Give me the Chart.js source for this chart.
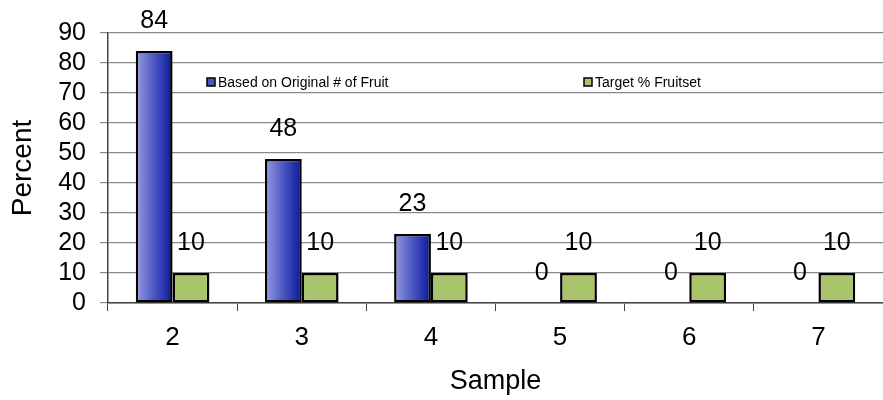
<!DOCTYPE html>
<html>
<head>
<meta charset="utf-8">
<script src="https://cdn.jsdelivr.net/npm/chart.js@4"></script>
<style>
  body { margin: 0; background: #fff; }
  #wrap { width: 883px; height: 400px; }
</style>
</head>
<body>
<div id="wrap"><canvas id="myChart"></canvas></div>
<script>
var samples = ['2', '3', '4', '5', '6', '7'];
var originalFruit = [84, 48, 23, 0, 0, 0];
var targetFruitset = [10, 10, 10, 10, 10, 10];
var yTicks = [0, 10, 20, 30, 40, 50, 60, 70, 80, 90];

var FONT = "Arial, 'Liberation Sans', sans-serif";
var CAT_PCT = 0.57;

// horizontal gradient for the blue bars, worked out from the x scale
function blueGradient(context) {
  var chart = context.chart;
  var xs = chart.scales.x;
  if (!chart.chartArea || !xs || context.dataIndex === undefined) return '#4a55c2';
  var center = xs.getPixelForValue(context.dataIndex);
  var w = (xs.width / samples.length) * CAT_PCT / 2;
  var g = chart.ctx.createLinearGradient(center - w, 0, center, 0);
  g.addColorStop(0, '#979ce0');
  g.addColorStop(0.5, '#4c56c3');
  g.addColorStop(1, '#08189a');
  return g;
}

// value labels above bars
var valueLabels = {
  id: 'valueLabels',
  afterDatasetsDraw: function (chart) {
    var ctx = chart.ctx;
    ctx.save();
    ctx.font = '25px ' + FONT;
    ctx.fillStyle = '#000';
    ctx.textAlign = 'center';
    ctx.textBaseline = 'middle';
    chart.data.datasets.forEach(function (ds, i) {
      chart.getDatasetMeta(i).data.forEach(function (el, j) {
        ctx.fillText(String(ds.data[j]), el.x, el.y - 30);
      });
    });
    ctx.restore();
  }
};

// legend drawn inside the plot area
var insideLegend = {
  id: 'insideLegend',
  afterDraw: function (chart) {
    var ctx = chart.ctx;
    var items = [
      { x: 207, fill: '#4a55c2', text: chart.data.datasets[0].label },
      { x: 584, fill: '#a9c46c', text: chart.data.datasets[1].label }
    ];
    ctx.save();
    ctx.font = '14px ' + FONT;
    ctx.textBaseline = 'middle';
    items.forEach(function (it) {
      ctx.fillStyle = it.fill;
      ctx.fillRect(it.x, 78, 8, 8);
      ctx.strokeStyle = '#000';
      ctx.lineWidth = 1.5;
      ctx.strokeRect(it.x, 78, 8, 8);
      ctx.fillStyle = '#000';
      ctx.fillText(it.text, it.x + 11, 83);
    });
    ctx.restore();
  }
};

var ctx = document.getElementById('myChart').getContext('2d');
new Chart(ctx, {
  type: 'bar',
  data: {
    labels: samples,
    datasets: [
      {
        label: 'Based on Original # of Fruit',
        data: originalFruit,
        backgroundColor: blueGradient,
        borderColor: '#000',
        borderWidth: 2.5,
        borderSkipped: false,
        categoryPercentage: CAT_PCT,
        barPercentage: 1.0
      },
      {
        label: 'Target % Fruitset',
        data: targetFruitset,
        backgroundColor: '#a9c46c',
        borderColor: '#000',
        borderWidth: 2.5,
        borderSkipped: false,
        categoryPercentage: CAT_PCT,
        barPercentage: 1.0
      }
    ]
  },
  plugins: [valueLabels, insideLegend],
  options: {
    responsive: true,
    maintainAspectRatio: false,
    animation: false,
    layout: { padding: { top: 33, right: 0, left: 0, bottom: 0 } },
    plugins: {
      legend: { display: false },
      tooltip: { enabled: false }
    },
    scales: {
      x: {
        grid: {
          offset: true,
          drawOnChartArea: false,
          drawTicks: true,
          tickLength: 8,
          color: '#444'
        },
        border: { display: true, color: '#444', width: 1.5 },
        ticks: {
          color: '#000',
          font: { size: 26, family: FONT },
          padding: 11
        },
        title: {
          display: true,
          text: 'Sample',
          color: '#000',
          font: { size: 27, family: FONT },
          padding: { top: 8, bottom: 2 }
        },
        afterFit: function (scale) { scale.height = 97; }
      },
      y: {
        min: 0,
        max: 90,
        afterBuildTicks: function (scale) {
          scale.ticks = yTicks.map(function (v) { return { value: v }; });
        },
        grid: {
          color: '#8a8a8a',
          lineWidth: 1.2,
          tickLength: 8
        },
        border: { display: true, color: '#444', width: 1.5 },
        ticks: {
          autoSkip: false,
          color: '#000',
          font: { size: 25, family: FONT },
          padding: 14
        },
        title: {
          display: true,
          text: 'Percent',
          color: '#000',
          font: { size: 28, family: FONT },
          padding: { top: 6, bottom: 4 }
        },
        afterFit: function (scale) { scale.width = 108; }
      }
    }
  }
});
</script>
</body>
</html>
